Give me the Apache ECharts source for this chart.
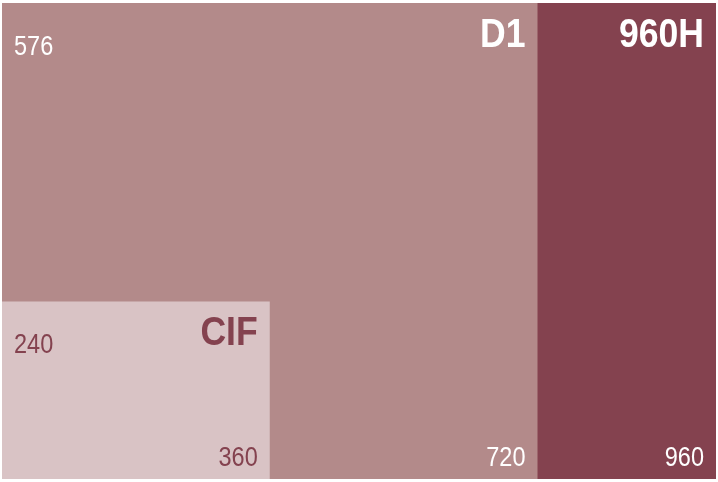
<!DOCTYPE html>
<html>
<head>
<meta charset="utf-8">
<script src="https://cdn.jsdelivr.net/npm/echarts@6/dist/echarts.min.js"></script>
<style>html,body{margin:0;padding:0;background:#fff}#c{width:718px;height:482px}</style>
</head>
<body>
<div id="c"></div>
<script>
var names = ['960H', 'D1', 'CIF'];
var widths = [960, 720, 360];
var heights = [576, 576, 240];
var fills = ['#84424F', '#B38A8A', '#D9C3C5'];
var textColors = ['#FFFFFF', '#FFFFFF', '#84424F'];

var chart = echarts.init(document.getElementById('c'));
var titleFont = 'bold 40px "Liberation Sans", Arial, sans-serif';
var numFont = '28px "Liberation Sans", Arial, sans-serif';
var yMin = 40;

chart.setOption({
  animation: false,
  grid: { left: 2, right: 2, top: 3, bottom: 3 },
  xAxis: { type: 'value', min: 0, max: 960, show: false },
  yAxis: { type: 'value', min: yMin, max: 576, show: false },
  series: [{
    type: 'custom',
    data: names.map(function (n, i) { return [widths[i], heights[i], i]; }),
    renderItem: function (params, api) {
      var i = api.value(2);
      var tl = api.coord([0, api.value(1)]);
      var br = api.coord([api.value(0), yMin]);
      var x0 = tl[0], y0 = tl[1], x1 = br[0], y1 = br[1];
      return {
        type: 'group',
        children: [
          { type: 'rect', shape: { x: x0, y: y0, width: x1 - x0, height: y1 - y0 }, style: { fill: fills[i] } },
          { type: 'text', x: x1 - 12, y: y0 + 33, scaleX: 0.89, style: { text: names[i], font: titleFont, fill: textColors[i], align: 'right', verticalAlign: 'middle' } },
          { type: 'text', x: x0 + 12, y: y0 + 44, scaleX: 0.84, style: { text: String(heights[i]), font: numFont, fill: textColors[i], align: 'left', verticalAlign: 'middle' } },
          { type: 'text', x: x1 - 12, y: y1 - 21, scaleX: 0.84, style: { text: String(widths[i]), font: numFont, fill: textColors[i], align: 'right', verticalAlign: 'middle' } }
        ]
      };
    }
  }]
});
</script>
</body>
</html>
